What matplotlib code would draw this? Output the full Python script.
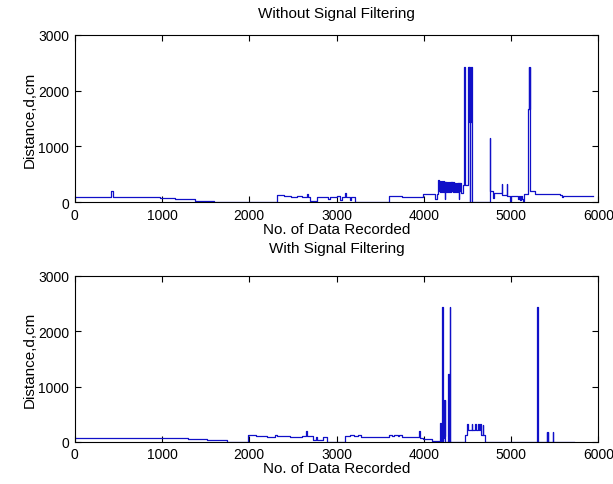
import numpy as np
import matplotlib
matplotlib.use('Agg')
import matplotlib.pyplot as plt

plt.rcParams['font.family'] = ['Liberation Sans', 'DejaVu Sans']
plt.rcParams['font.size'] = 11

# ---- Without signal filtering: step breakpoints (sample no., distance cm) ----
raw_idx = [0, 60, 80, 400, 420, 440, 980, 1150, 1380, 1600, 2320, 2400, 2480,
           2550, 2600, 2660, 2670, 2700, 2780, 2850, 2900, 2920, 3000, 3040,
           3060, 3095, 3105, 3150, 3170, 3212, 3602, 3750, 3990, 4130, 4150]
raw_dist = [100, 90, 100, 100, 210, 85, 75, 55, 30, 5, 130, 110, 100,
            110, 90, 140, 100, 20, 90, 100, 60, 100, 110, 40,
            100, 170, 100, 40, 100, 10, 110, 90, 140, 60, 140]

# dense noisy burst starting at sample 4166 (every 5 samples)
raw_burst1 = [390, 200, 385, 180, 380, 220, 385, 190, 375, 210, 380, 180,
              375, 200, 370, 60, 370, 190, 365, 220, 370, 180, 360, 210,
              365, 190, 360, 200, 355, 180, 360, 210, 355, 190, 350, 220,
              355, 180, 350, 200, 345, 190, 350, 210, 345, 180, 350, 60,
              345, 200, 350, 180]
raw_burst1_start = 4166

raw_idx2 = [4426, 4452, 4462, 4468, 4510]
raw_dist2 = [170, 300, 2430, 300, 300]

# thick spike region starting at sample 4512 (every 4 samples)
raw_burst2 = [2430, 1440, 2430, 0, 2430, 1440, 2430, 1440, 2430, 0]
raw_burst2_start = 4512

raw_idx3 = [4552, 4754, 4760, 4795, 4802, 4894, 4900, 4952, 4958, 4990,
            4995, 5085, 5095, 5105, 5115, 5125, 5135, 5145, 5200, 5204,
            5208, 5212, 5216, 5222, 5277, 5565, 5580, 5590, 5942]
raw_dist3 = [5, 1150, 200, 80, 170, 330, 130, 330, 120, 20,
             120, 50, 120, 40, 110, 60, 30, 140, 1680, 2430,
             1680, 2430, 1680, 200, 150, 130, 90, 110, 110]

# ---- With signal filtering ----
flt_idx = [0, 1296, 1515, 1744, 1985, 2080, 2200, 2300, 2320, 2450, 2470,
           2600, 2655, 2665, 2730, 2760, 2780, 2845, 2890, 3097, 3150, 3200,
           3250, 3280, 3602, 3640, 3660, 3700, 3720, 3750, 3940, 3952, 3990,
           4095, 4187, 4193, 4210, 4216]
flt_dist = [75, 58, 35, 5, 130, 105, 95, 115, 100, 110, 95,
            100, 190, 110, 40, 90, 30, 80, 3, 105, 120, 100,
            120, 95, 130, 100, 130, 110, 130, 95, 200, 65, 45,
            15, 345, 15, 2430, 15]

# thick spike around sample 4220 (every 3 samples)
flt_burst1 = [750, 100, 750, 60, 750, 100, 750]
flt_burst1_start = 4220

flt_idx2 = [4241, 4283, 4289, 4295, 4301, 4478, 4500, 4506, 4550, 4556,
            4590, 4596, 4625, 4631, 4646, 4652, 4677, 4683, 4706, 5299,
            5305, 5410, 5414, 5418, 5422, 5480, 5486, 5724]
flt_dist2 = [3, 1230, 3, 2430, 3, 120, 320, 210, 320, 210,
             320, 210, 320, 210, 320, 120, 300, 120, 3, 2430,
             3, 180, 3, 180, 3, 180, 3, 3]


def series(parts):
    # parts: ('pts', idx, vals) or (step, start, vals) for evenly sampled bursts
    xs, ys = [], []
    for kind, a, b in parts:
        if kind == 'pts':
            xs += list(a)
        else:
            xs += list(a + kind * np.arange(len(b)))
        ys += list(b)
    return np.array(xs), np.array(ys)


x_raw, y_raw = series([('pts', raw_idx, raw_dist),
                       (5, raw_burst1_start, raw_burst1),
                       ('pts', raw_idx2, raw_dist2),
                       (4, raw_burst2_start, raw_burst2),
                       ('pts', raw_idx3, raw_dist3)])
x_flt, y_flt = series([('pts', flt_idx, flt_dist),
                       (3, flt_burst1_start, flt_burst1),
                       ('pts', flt_idx2, flt_dist2)])

fig = plt.figure(figsize=(6.13, 4.85), dpi=100)
ax1 = fig.add_axes([0.122, 0.581, 0.854, 0.345])
ax2 = fig.add_axes([0.122, 0.087, 0.854, 0.342])

for ax, x, y, title, tpad in [(ax1, x_raw, y_raw, 'Without Signal Filtering', 13),
                              (ax2, x_flt, y_flt, 'With Signal Filtering', 17)]:
    ax.plot(x, y, color='#1010c8', linewidth=0.9, drawstyle='steps-post')
    ax.set_xlim(0, 6000)
    ax.set_ylim(0, 3000)
    ax.set_xticks([0, 1000, 2000, 3000, 4000, 5000, 6000])
    ax.set_yticks([0, 1000, 2000, 3000])
    ax.tick_params(direction='in', top=True, right=True, length=4, pad=4,
                   labelsize=10)
    ax.set_title(title, pad=tpad, fontsize=11)
    ax.set_xlabel('No. of Data Recorded', labelpad=0)
    ax.set_ylabel('Distance,d,cm', labelpad=1)

fig.savefig('out.png', dpi=100)
